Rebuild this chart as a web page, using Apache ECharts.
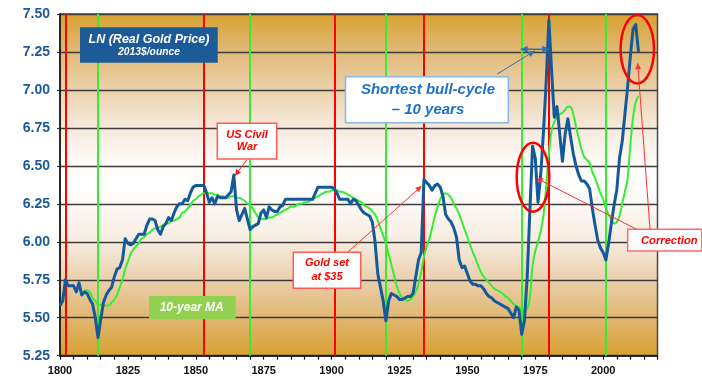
<!DOCTYPE html>
<html><head><meta charset="utf-8">
<script src="https://cdn.jsdelivr.net/npm/echarts@6/dist/echarts.min.js"></script>
<style>html,body{margin:0;padding:0;background:#fff}#c{width:702px;height:380px}</style>
</head><body><div id="c"></div>
<script>
// ---- data ----
const goldStartYear = 1800;
const goldLn = [
  5.58,5.61,5.75,5.71,5.71,5.71,5.67,5.73,5.65,5.67,
  5.66,5.62,5.59,5.50,5.37,5.49,5.60,5.65,5.68,5.70,
  5.77,5.82,5.83,5.88,6.02,5.99,5.98,5.99,6.02,6.05,
  6.05,6.05,6.11,6.15,6.15,6.14,6.08,6.05,6.10,6.12,
  6.16,6.14,6.19,6.23,6.25,6.25,6.28,6.27,6.32,6.36,
  6.37,6.37,6.37,6.37,6.32,6.26,6.29,6.25,6.30,6.29,
  6.29,6.29,6.31,6.33,6.44,6.21,6.14,6.18,6.22,6.15,
  6.08,6.10,6.11,6.12,6.19,6.21,6.16,6.23,6.21,6.20,
  6.20,6.23,6.24,6.28,6.28,6.28,6.28,6.28,6.28,6.28,
  6.28,6.28,6.28,6.28,6.32,6.36,6.36,6.36,6.36,6.36,
  6.36,6.35,6.32,6.28,6.28,6.28,6.28,6.25,6.28,6.27,
  6.24,6.21,6.19,6.18,6.17,6.13,6.00,5.79,5.70,5.61,
  5.48,5.61,5.66,5.65,5.64,5.62,5.62,5.63,5.64,5.64,
  5.66,5.77,5.88,5.93,6.41,6.39,6.37,6.34,6.37,6.38,
  6.36,6.30,6.18,6.15,6.13,6.09,6.03,5.88,5.83,5.84,
  5.79,5.74,5.72,5.72,5.71,5.71,5.69,5.66,5.64,5.63,
  5.61,5.60,5.59,5.58,5.57,5.56,5.53,5.50,5.57,5.55,
  5.39,5.48,5.76,6.20,6.63,6.55,6.26,6.44,6.72,7.05,
  7.46,7.13,6.82,6.89,6.71,6.53,6.71,6.81,6.69,6.58,
  6.50,6.44,6.40,6.40,6.38,6.35,6.22,6.11,6.01,5.96,
  5.93,5.88,5.99,6.12,6.24,6.34,6.55,6.66,6.84,7.02,
  7.22,7.40,7.43,7.25
];
const maStartYear = 1809;
const maLn = [
  5.68,
  5.68,5.67,5.63,5.61,5.59,5.585,5.58,5.58,5.58,5.60,
  5.62,5.65,5.70,5.75,5.82,5.87,5.92,5.95,5.97,5.99,
  6.02,6.03,6.05,6.06,6.08,6.09,6.09,6.10,6.11,6.12,
  6.12,6.14,6.14,6.15,6.16,6.19,6.20,6.22,6.24,6.27,
  6.28,6.30,6.31,6.32,6.32,6.32,6.32,6.31,6.31,6.30,
  6.30,6.29,6.29,6.30,6.30,6.29,6.29,6.28,6.27,6.25,
  6.24,6.22,6.19,6.16,6.15,6.15,6.15,6.16,6.16,6.17,
  6.18,6.19,6.20,6.21,6.22,6.23,6.23,6.24,6.25,6.25,
  6.26,6.26,6.27,6.28,6.29,6.30,6.31,6.32,6.33,6.33,
  6.34,6.34,6.34,6.33,6.33,6.32,6.31,6.30,6.29,6.28,
  6.27,6.26,6.24,6.23,6.22,6.20,6.18,6.14,6.09,6.04,
  5.99,5.92,5.85,5.78,5.71,5.66,5.63,5.62,5.61,5.62,
  5.64,5.67,5.72,5.80,5.90,5.97,6.02,6.09,6.17,6.23,
  6.28,6.31,6.32,6.31,6.29,6.25,6.22,6.18,6.13,6.08,
  6.03,5.98,5.93,5.89,5.84,5.80,5.77,5.75,5.73,5.71,
  5.69,5.68,5.67,5.66,5.64,5.63,5.61,5.59,5.58,5.57,
  5.55,5.54,5.56,5.63,5.84,5.94,6.00,6.07,6.17,6.36,
  6.58,6.73,6.79,6.82,6.84,6.85,6.87,6.89,6.89,6.84,
  6.76,6.68,6.61,6.56,6.54,6.52,6.46,6.42,6.37,6.32,
  6.28,6.22,6.18,6.15,6.12,6.13,6.17,6.25,6.33,6.42,
  6.64,6.82,6.92,6.96
];
const peakYears = [1802, 1853, 1901, 1934, 1980];
const troughYears = [1814, 1870, 1920, 1970, 2001];
const xLabelStep = 25;

// ---- chart ----
const FONT = '"Liberation Sans", Arial, sans-serif';
const goldData = goldLn.map((v, i) => [goldStartYear + i, v]);
const maData = maLn.map((v, i) => [maStartYear + i, v]);

function arrow(x1, y1, x2, y2, color, lw, hl, hw, both) {
  const head = (ax, ay, bx, by) => {
    const a = Math.atan2(by - ay, bx - ax), c = Math.cos(a), s = Math.sin(a);
    const px = bx - hl * c, py = by - hl * s;
    return { type: 'polygon', z: 110, silent: true,
      shape: { points: [[bx, by], [px + hw * s, py - hw * c], [px - hw * s, py + hw * c]] },
      style: { fill: color } };
  };
  const els = [{ type: 'line', z: 110, silent: true, shape: { x1, y1, x2, y2 }, style: { stroke: color, lineWidth: lw } }];
  els.push(head(x1, y1, x2, y2));
  if (both) els.push(head(x2, y2, x1, y1));
  return els;
}
function box(x, y, w, h, fill, stroke, lw) {
  return { type: 'rect', z: 100, silent: true, shape: { x, y, width: w, height: h },
    style: { fill, stroke: stroke || null, lineWidth: lw || 0 } };
}
function txt(t, x, y, size, color) {
  return { type: 'text', z: 105, silent: true,
    style: { text: t, x, y, align: 'center', verticalAlign: 'middle', fill: color,
      fontSize: size, fontWeight: 'bold', fontStyle: 'italic', fontFamily: FONT } };
}

const graphics = [].concat(
  [box(80, 27.3, 137.7, 35.4, '#1D5B98'),
   txt('LN (Real Gold Price)', 149, 39.5, 12.5, '#FFFFFF'),
   txt('2013$/ounce', 149, 52, 10.3, '#FFFFFF')],
  [box(217.3, 123.3, 59.4, 35.7, '#FFFFFF', '#FF5A5A', 1.5),
   txt('US Civil', 247, 135, 11, '#FF0000'),
   txt('War', 247, 147, 11, '#FF0000')],
  arrow(246.7, 160, 235, 175.7, '#FF2020', 1, 6, 3, false),
  [box(293.3, 252.3, 67.4, 36, '#FFFFFF', '#FF5A5A', 1.5),
   txt('Gold set', 327, 262.7, 11, '#FF0000'),
   txt('at $35', 327, 277.3, 11, '#FF0000')],
  arrow(348.3, 251.7, 421.7, 186, '#FF3030', 1, 6, 3, false),
  [box(345.5, 76.7, 162.8, 46, '#FFFFFF', '#8DB6DE', 1.5),
   txt('Shortest bull-cycle', 428, 90, 15, '#1F70C4'),
   txt('\u2013 10 years', 428, 109.5, 15, '#1F70C4')],
  arrow(497.3, 74, 535, 50.7, '#2E72B0', 1, 7, 3, false),
  arrow(520.7, 49.3, 549.3, 49.3, '#2E72B0', 1.5, 7, 3.5, true),
  [{ type: 'ellipse', z: 108, silent: true, shape: { cx: 533, cy: 177.2, rx: 16.3, ry: 34.5 },
     style: { fill: null, stroke: '#FF0000', lineWidth: 2.5 } },
   { type: 'ellipse', z: 108, silent: true, shape: { cx: 637.3, cy: 49.2, rx: 16.7, ry: 34.2 },
     style: { fill: null, stroke: '#FF0000', lineWidth: 2.5 } }],
  arrow(636.7, 229.3, 536.7, 178.3, '#FF3030', 1, 6, 3, false),
  arrow(650, 229.3, 637.7, 63.3, '#FF3030', 1, 6, 3, false),
  [box(627.7, 229.3, 74, 21.7, '#FFFFFF', '#FF6A6A', 1.5),
   txt('Correction', 669.3, 241, 11.2, '#FF0000')],
  [box(149, 296, 86.7, 23.3, '#92D050'),
   txt('10-year MA', 191.7, 308, 12, '#FFFFFF')]
);

const vLines = peakYears.map(y => ({ xAxis: y, lineStyle: { color: '#FF0000', width: 2, type: 'solid' } }))
  .concat(troughYears.map(y => ({ xAxis: y, lineStyle: { color: '#33EE33', width: 2, type: 'solid' } })));

const chart = echarts.init(document.getElementById('c'));
chart.setOption({
  animation: false,
  grid: {
    left: 60, right: 44.5, top: 14, bottom: 24.3, show: true,
    borderColor: '#4a4a4a', borderWidth: 1.5,
    backgroundColor: new echarts.graphic.LinearGradient(0, 0, 0, 1, [
      { offset: 0, color: '#D7A12F' },
      { offset: 0.11, color: '#E1B976' },
      { offset: 0.22, color: '#EBD1AA' },
      { offset: 0.33, color: '#F6E9DB' },
      { offset: 0.44, color: '#FEFBF8' },
      { offset: 0.5, color: '#FFFFFF' },
      { offset: 0.56, color: '#FDF9F5' },
      { offset: 0.67, color: '#F6EADD' },
      { offset: 0.78, color: '#EACFAA' },
      { offset: 0.89, color: '#E0B670' },
      { offset: 1, color: '#D7A12F' }
    ])
  },
  xAxis: {
    type: 'value', min: 1800, max: 2020, interval: 5,
    axisLine: { show: true, lineStyle: { color: '#111', width: 1.5 } },
    axisTick: { show: true, length: 4, inside: false, lineStyle: { color: '#111', width: 1.2 } },
    splitLine: { show: false },
    axisLabel: {
      margin: 10, color: '#111', fontSize: 11, fontWeight: 'bold', fontFamily: FONT,
      formatter: v => (v % xLabelStep === 0 ? String(v) : '')
    }
  },
  yAxis: {
    type: 'value', min: 5.25, max: 7.5, interval: 0.25,
    axisLine: { show: true, lineStyle: { color: '#111', width: 1.5 } },
    axisTick: { show: true, length: 3, lineStyle: { color: '#333', width: 1.2 } },
    splitLine: { show: true, lineStyle: { color: '#3c3c3c', width: 1.3 } },
    axisLabel: {
      margin: 10, color: '#1B5A9A', fontSize: 14, fontWeight: 'bold', fontFamily: FONT,
      formatter: v => v.toFixed(2)
    }
  },
  series: [
    {
      name: 'Vertical', type: 'line', data: [], silent: true,
      markLine: { silent: true, symbol: ['none', 'none'], z: 1, label: { show: false },
        emphasis: { disabled: true }, data: vLines }
    },
    {
      name: '10-year MA', type: 'line', data: maData, showSymbol: false, smooth: 0.3, z: 3,
      lineStyle: { color: '#33EE33', width: 2 }
    },
    {
      name: 'LN (Real Gold Price)', type: 'line', data: goldData, showSymbol: false, z: 4,
      lineStyle: { color: '#135A9B', width: 3, join: 'round' }
    }
  ],
  graphic: graphics
});
</script>
</body></html>
